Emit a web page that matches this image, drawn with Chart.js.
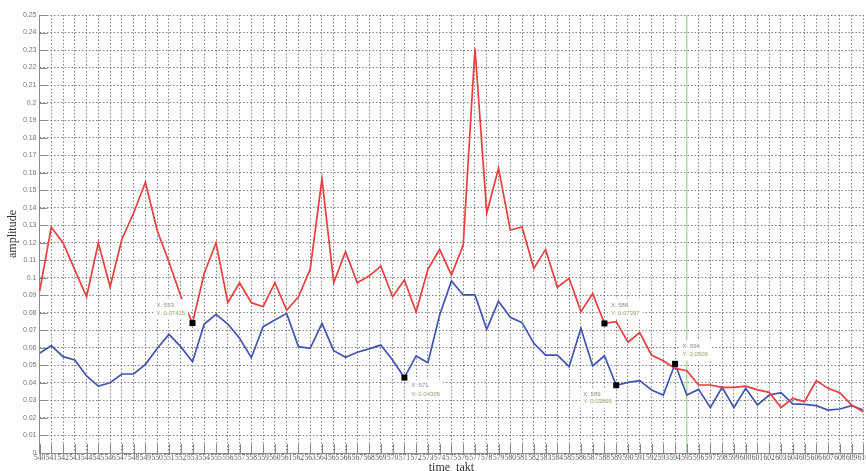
<!DOCTYPE html>
<html>
<head>
<meta charset="utf-8">
<script src="https://cdn.jsdelivr.net/npm/chart.js@4/dist/chart.umd.min.js"></script>
<style>
html,body{margin:0;padding:0;background:#fff;overflow:hidden;width:866px;height:471px;}
#wrap{width:870px;height:471px;}
</style>
</head>
<body>
<div id="wrap"><canvas id="c" width="870" height="471"></canvas></div>
<script>
const timeTakt = [540,541,542,543,544,545,546,547,548,549,550,551,552,553,554,555,556,557,558,559,
  560,561,562,563,564,565,566,567,568,569,570,571,572,573,574,575,576,577,578,579,
  580,581,582,583,584,585,586,587,588,589,590,591,592,593,594,595,596,597,598,599,
  600,601,602,603,604,605,606,607,608,609,610];

const redSeries = [0.092,0.1288,0.120,0.1045,0.0892,0.120,0.0949,0.122,0.137,0.1545,
  0.127,0.109,0.0896,0.07415,0.1026,0.120,0.0858,0.0972,0.0858,0.0835,
  0.0972,0.0815,0.0892,0.1048,0.1565,0.0972,0.1149,0.0972,0.101,0.1067,
  0.0892,0.0987,0.0805,0.1048,0.1162,0.1016,0.1187,0.231,0.137,0.1625,
  0.1273,0.129,0.1054,0.1162,0.0946,0.0997,0.0807,0.091,0.07397,0.075,
  0.0632,0.0687,0.0559,0.0527,0.0483,0.047,0.0388,0.0388,0.0375,0.0375,
  0.0382,0.036,0.0346,0.026,0.0312,0.0293,0.0413,0.0369,0.0344,0.0274,0.0236];

const blueSeries = [0.0569,0.0613,0.055,0.0531,0.044,0.0382,0.0401,0.0451,0.0451,0.0506,
  0.0597,0.0677,0.0607,0.0521,0.0736,0.0792,0.0736,0.0655,0.0544,0.0721,
  0.0759,0.0797,0.0607,0.0597,0.074,0.0584,0.0546,0.0575,0.0594,0.0616,
  0.0531,0.04305,0.0554,0.0515,0.0788,0.0982,0.0902,0.0902,0.0706,0.0866,
  0.0775,0.0744,0.0626,0.0559,0.0559,0.0493,0.0712,0.0497,0.0555,0.03866,
  0.0403,0.0413,0.036,0.0331,0.0509,0.0331,0.0363,0.0259,0.0375,0.0259,
  0.0369,0.0274,0.0331,0.0344,0.028,0.0278,0.027,0.0245,0.0251,0.027,0.0245];

// data tips: x value and which series (0 = red, 1 = blue)
const tipX = [553, 571, 588, 589, 594];
const tipSeries = [0, 1, 0, 1, 1];

// vertical cursor line
const cursorX = [595];

const xMin = 540, xMax = 610, yMin = 0, yMax = 0.25;

// style only: text placement of each tip relative to its marker
const tipPlacement = [
  {dx:-36, dy1:-18, dy2:-10},
  {dx:7, dy1:8, dy2:16.5},
  {dx:6.5, dy1:-18.5, dy2:-10.5},
  {dx:-33, dy1:9, dy2:16.5},
  {dx:7.5, dy1:-17.5, dy2:-9.5}
];

const toPts = arr => timeTakt.map((x,i)=>({x:x, y:arr[i]}));

const overlay = {
  id:'overlay',
  beforeDatasetsDraw(chart){
    const ctx = chart.ctx, xs = chart.scales.x, ys = chart.scales.y, a = chart.chartArea;
    ctx.save();
    ctx.strokeStyle = 'rgb(150,228,150)';
    ctx.lineWidth = 1.2;
    cursorX.forEach(v=>{
      const px = xs.getPixelForValue(v);
      ctx.beginPath(); ctx.moveTo(px, a.top); ctx.lineTo(px, a.bottom); ctx.stroke();
    });
    // inward ticks
    ctx.setLineDash([]);
    ctx.strokeStyle = '#8a8a8a';
    ctx.lineWidth = 1;
    xs.ticks.forEach(t=>{
      const px = Math.round(xs.getPixelForValue(t.value))+0.5;
      ctx.beginPath(); ctx.moveTo(px, a.bottom); ctx.lineTo(px, a.bottom-9); ctx.stroke();
    });
    ys.ticks.forEach(t=>{
      const py = Math.round(ys.getPixelForValue(t.value))+0.5;
      ctx.beginPath(); ctx.moveTo(a.left, py); ctx.lineTo(a.left+8, py); ctx.stroke();
    });
    ctx.restore();
  },
  afterDatasetsDraw(chart){
    const ctx = chart.ctx, xs = chart.scales.x, ys = chart.scales.y;
    const series = [redSeries, blueSeries];
    ctx.save();
    ctx.font = '6px "Liberation Sans", Arial, sans-serif';
    ctx.textBaseline = 'middle';
    tipX.forEach((xv,i)=>{
      const yv = series[tipSeries[i]][timeTakt.indexOf(xv)];
      const mx = xs.getPixelForValue(xv), my = ys.getPixelForValue(yv);
      const p = tipPlacement[i];
      const l1 = 'X: ' + xv, l2 = 'Y: ' + String(yv);
      const w = Math.max(ctx.measureText(l1).width, ctx.measureText(l2).width);
      const bx = mx + p.dx - 3, by = my + p.dy1 - 6;
      ctx.fillStyle = 'rgba(255,255,255,0.97)';
      ctx.fillRect(bx, by, w + 6, (p.dy2 - p.dy1) + 12);
      ctx.fillStyle = '#8a8a80';
      ctx.fillText(l1, mx + p.dx, my + p.dy1);
      ctx.fillStyle = '#9a9a6a';
      ctx.fillText(l2, mx + p.dx, my + p.dy2);
      ctx.fillStyle = '#000';
      ctx.fillRect(mx-3, my-3, 6, 6);
    });
    ctx.restore();
  }
};

new Chart(document.getElementById('c'), {
  type:'line',
  data:{
    datasets:[
      {data:toPts(redSeries), borderColor:'rgb(232,62,62)', borderWidth:1.7, pointRadius:0, tension:0, fill:false},
      {data:toPts(blueSeries), borderColor:'rgb(66,84,176)', borderWidth:1.7, pointRadius:0, tension:0, fill:false}
    ]
  },
  options:{
    responsive:false,
    animation:false,
    devicePixelRatio:1,
    layout:{padding:{top:15,right:2,left:0,bottom:0}},
    plugins:{legend:{display:false}, tooltip:{enabled:false}},
    scales:{
      x:{
        type:'linear', min:xMin, max:xMax,
        afterFit:s=>{s.height=18;},
        ticks:{stepSize:1, autoSkip:false, maxRotation:0, minRotation:0, padding:1,
          color:'#555', font:{family:'"Liberation Serif", serif', size:7.5},
          callback:v=>String(v)},
        grid:{color:'rgba(100,100,100,0.8)', drawTicks:false, lineWidth:1},
        border:{display:true, color:'#8a8a8a', width:1, dash:[1.5,2]},
        title:{display:true, text:'time_takt', color:'#333', padding:{top:0,bottom:-4},
          font:{family:'"Liberation Serif", serif', size:12}}
      },
      y:{
        min:yMin, max:yMax,
        afterFit:s=>{s.width=39.5;},
        ticks:{stepSize:0.01, padding:3, color:'#777',
          font:{family:'"Liberation Sans", Arial, sans-serif', size:7},
          callback:v=>String(parseFloat(Number(v).toFixed(2)))},
        grid:{color:'rgba(100,100,100,0.8)', drawTicks:false, lineWidth:1},
        border:{display:true, color:'#8a8a8a', width:1, dash:[1.5,2]},
        title:{display:true, text:'amplitude', color:'#333', padding:{top:6,bottom:0},
          font:{family:'"Liberation Serif", serif', size:12}}
      }
    }
  },
  plugins:[overlay]
});
</script>
</body>
</html>
